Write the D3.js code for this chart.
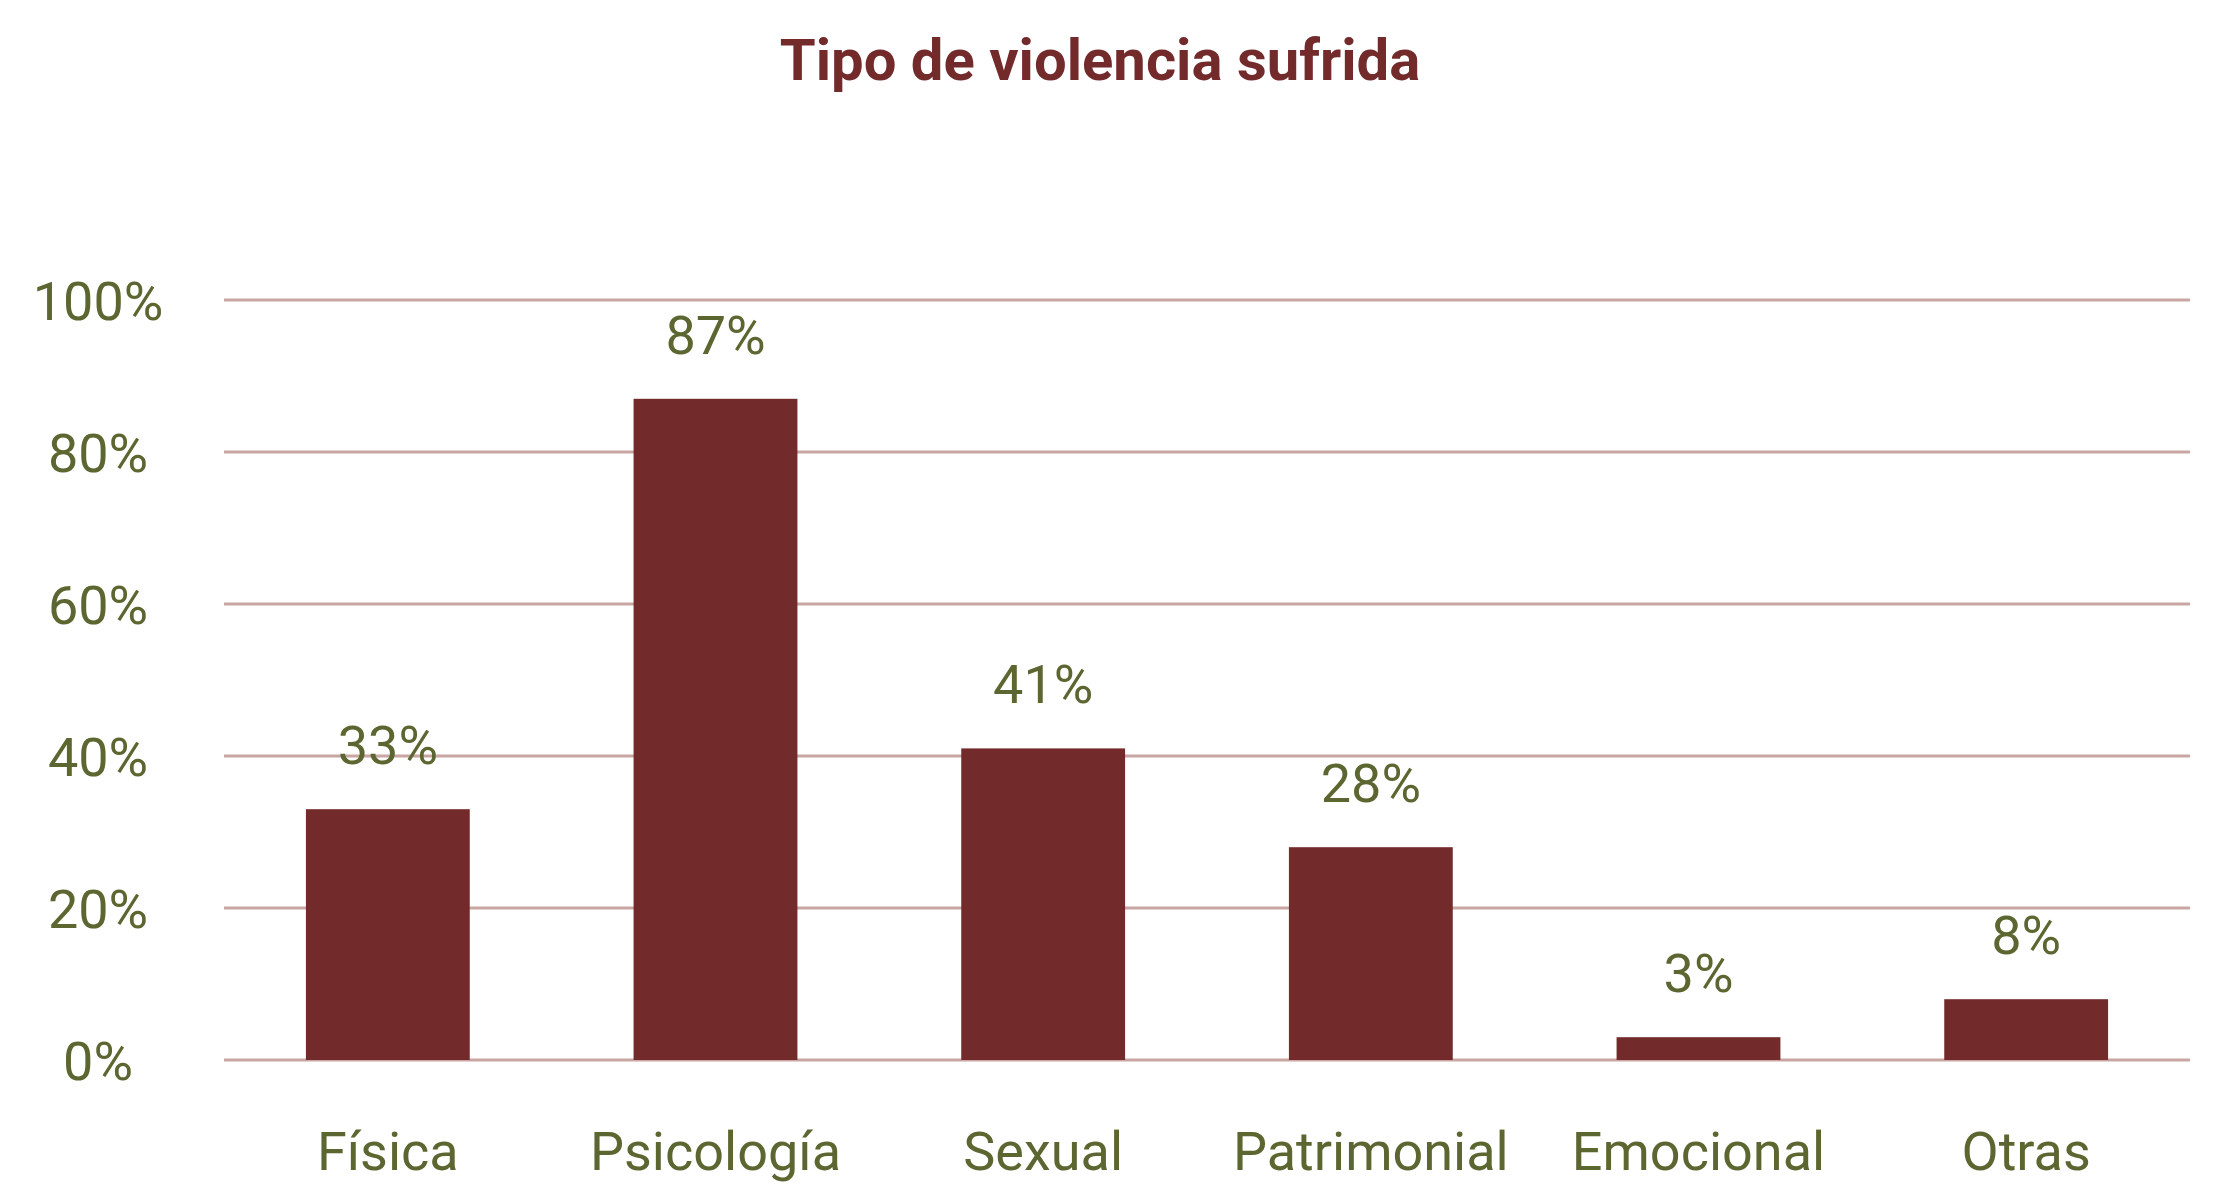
<!DOCTYPE html><html><head><meta charset="utf-8"><script src="https://cdn.jsdelivr.net/npm/d3@7"></script>
<style>body{margin:0;background:#fff}</style></head><body><svg id="c" width="2224" height="1204"></svg>
<script>
const categories=["Física","Psicología","Sexual","Patrimonial","Emocional","Otras"];
const values=[33,87,41,28,3,8];
const yTicks=[0,20,40,60,80,100];
const svg=d3.select("#c"),font="Roboto, sans-serif",green="#5c6630";
const x=d3.scaleBand().domain(categories).range([224,2190]).paddingInner(0.5).paddingOuter(0.25);
const y=d3.scaleLinear().domain([0,100]).range([1060,300]);
svg.append("text").attr("x",1100).attr("y",80).attr("text-anchor","middle").attr("font-family",font).attr("font-weight",700).attr("font-size",58).attr("fill","#732a2b").text("Tipo de violencia sufrida");
svg.selectAll(".g").data(yTicks).join("line").attr("x1",224).attr("x2",2190).attr("y1",d=>y(d)).attr("y2",d=>y(d)).attr("stroke","#c9a5a3").attr("stroke-width",3);
svg.selectAll(".yt").data(yTicks).join("text").attr("x",98).attr("y",d=>y(d)+20).attr("text-anchor","middle").attr("font-family",font).attr("font-size",54).attr("fill",green).text(d=>d+"%");
svg.selectAll(".b").data(values).join("rect").attr("x",(d,i)=>x(categories[i])).attr("width",x.bandwidth()).attr("y",d=>y(d)).attr("height",d=>y(0)-y(d)).attr("fill","#732a2a");
svg.selectAll(".v").data(values).join("text").attr("x",(d,i)=>x(categories[i])+x.bandwidth()/2).attr("y",d=>y(d)-45).attr("text-anchor","middle").attr("font-family",font).attr("font-size",54).attr("fill",green).text(d=>d+"%");
svg.selectAll(".xl").data(categories).join("text").attr("x",d=>x(d)+x.bandwidth()/2).attr("y",1170).attr("text-anchor","middle").attr("font-family",font).attr("font-size",54).attr("fill",green).text(d=>d);
</script></body></html>
